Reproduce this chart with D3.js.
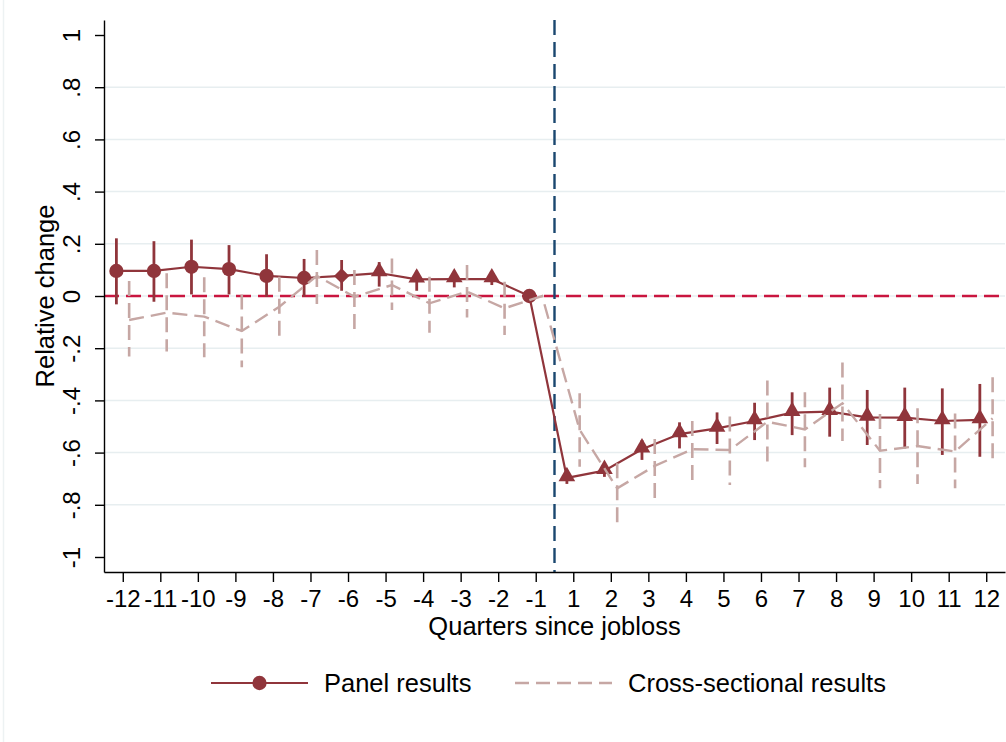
<!DOCTYPE html>
<html>
<head>
<meta charset="UTF-8">
<title>Relative change around job loss</title>
<style>
body { margin: 0; background: #fff; }
svg { font-family: "Liberation Sans", Arial, sans-serif; }
.grid line { stroke: #e7eef0; stroke-width: 1.5px; }
.axis path, .axis line { stroke: #000; stroke-width: 1.4px; }
.axis text { fill: #000; font-size: 24px; }
.title { font-size: 25.5px; fill: #000; }
</style>
</head>
<body>
<script src="https://cdn.jsdelivr.net/npm/d3@7/dist/d3.min.js"></script>
<script>

// quarters since job loss (0 is not a category)
var quarters = [-12, -11, -10, -9, -8, -7, -6, -5, -4, -3, -2, -1,
                1, 2, 3, 4, 5, 6, 7, 8, 9, 10, 11, 12];

// panel estimates and 95% bands
var panelEst = [0.096, 0.096, 0.112, 0.103, 0.077, 0.069, 0.077, 0.088, 0.064, 0.065, 0.065, 0,
                -0.697, -0.669, -0.587, -0.529, -0.507, -0.479, -0.447, -0.443, -0.465, -0.466, -0.479, -0.475];
var panelLo  = [-0.032, -0.022, 0.006, 0.006, -0.003, -0.003, 0.02, 0.036, 0.02, 0.033, 0.042, null,
                -0.72, -0.693, -0.628, -0.584, -0.567, -0.552, -0.533, -0.539, -0.571, -0.584, -0.609, -0.616];
var panelHi  = [0.221, 0.21, 0.216, 0.195, 0.16, 0.142, 0.138, 0.13, 0.097, 0.097, 0.09, null,
                -0.68, -0.64, -0.552, -0.484, -0.446, -0.409, -0.369, -0.351, -0.36, -0.351, -0.354, -0.337];
var panelShape = ["circle", "circle", "circle", "circle", "circle", "circle", "diamond",
                  "triangle", "triangle", "triangle", "triangle", "circle",
                  "triangle", "triangle", "triangle", "triangle", "triangle", "triangle",
                  "triangle", "triangle", "triangle", "triangle", "triangle", "triangle"];

// cross-sectional estimates and 95% bands
var crossEst = [-0.092, -0.064, -0.079, -0.134, -0.041, 0.077, -0.003, 0.042, -0.028, 0.017, -0.047, 0,
                -0.513, -0.737, -0.651, -0.587, -0.59, -0.482, -0.511, -0.411, -0.593, -0.575, -0.596, -0.469];
var crossLo  = [-0.232, -0.213, -0.235, -0.273, -0.156, -0.031, -0.128, -0.054, -0.141, -0.082, -0.149, null,
                -0.654, -0.869, -0.775, -0.708, -0.724, -0.635, -0.656, -0.556, -0.737, -0.72, -0.737, -0.622];
var crossHi  = [0.057, 0.087, 0.072, 0.006, 0.074, 0.176, 0.1, 0.144, 0.074, 0.119, 0.055, null,
                -0.373, -0.641, -0.548, -0.479, -0.462, -0.324, -0.369, -0.255, -0.452, -0.43, -0.45, -0.311];

var yTicks = [-1, -0.8, -0.6, -0.4, -0.2, 0, 0.2, 0.4, 0.6, 0.8, 1];
var yGrid  = [-0.8, -0.6, -0.4, -0.2, 0, 0.2, 0.4, 0.6, 0.8];

var panelColor = "#90353b",
    crossColor = "#c6a7a4";

var W = 1006, H = 742;
var svg = d3.select("body").append("svg")
    .attr("width", W)
    .attr("height", H);

// faint outer frame edge on the left
svg.append("line")
    .attr("x1", 3.5).attr("x2", 3.5).attr("y1", 0).attr("y2", H)
    .attr("stroke", "#edf2f3").attr("stroke-width", 1.5);

// scales: x runs on category index, half a slot padding each side
var x = d3.scaleLinear().domain([-0.5, quarters.length - 0.5]).range([104, 1005]);
var y = d3.scaleLinear().domain([-1.0575, 1.0575]).range([572, 20]);
var off = 0.17;

// gridlines
svg.append("g").attr("class", "grid")
  .selectAll("line").data(yGrid).enter().append("line")
    .attr("x1", x(-0.5)).attr("x2", x(quarters.length - 0.5))
    .attr("y1", function(d) { return y(d); })
    .attr("y2", function(d) { return y(d); });

// reference lines
svg.append("line")
    .attr("x1", x(-0.5)).attr("x2", x(quarters.length - 0.5))
    .attr("y1", y(0)).attr("y2", y(0))
    .attr("stroke", "#c9153f").attr("stroke-width", 2.4)
    .attr("stroke-dasharray", "15,7");

svg.append("line")
    .attr("x1", x(11.5)).attr("x2", x(11.5))
    .attr("y1", y(1.0575)).attr("y2", y(-1.0575))
    .attr("stroke", "#1a476f").attr("stroke-width", 2.4)
    .attr("stroke-dasharray", "15,7");

// axes
function yFmt(v) {
  if (v === 0) return "0";
  if (Math.abs(v) === 1) return String(v);
  return String(v).replace("0.", ".");
}

var yAxis = svg.append("g").attr("class", "axis")
    .attr("transform", "translate(104,0)")
    .call(d3.axisLeft(y).tickValues(yTicks).tickFormat(yFmt).tickSize(9).tickSizeOuter(0));
yAxis.selectAll("text")
    .attr("x", null).attr("dy", null)
    .attr("text-anchor", "middle")
    .attr("transform", "translate(-24,0) rotate(-90)");

var xAxis = svg.append("g").attr("class", "axis")
    .attr("transform", "translate(0,572)")
    .call(d3.axisBottom(x).tickValues(d3.range(quarters.length))
      .tickFormat(function(i) { return quarters[i]; }).tickSize(10).tickSizeOuter(0));
xAxis.selectAll("text").attr("y", 35).attr("dy", null);

// axis titles
svg.append("text").attr("class", "title")
    .attr("text-anchor", "middle")
    .attr("transform", "translate(54," + y(0) + ") rotate(-90)")
    .text("Relative change");

svg.append("text").attr("class", "title")
    .attr("text-anchor", "middle")
    .attr("x", (x(-0.5) + x(quarters.length - 0.5)) / 2)
    .attr("y", 635)
    .text("Quarters since jobloss");

// ---- panel series ----
var idx = d3.range(quarters.length);
var gp = svg.append("g");

gp.selectAll("line.ci").data(idx.filter(function(i) { return panelLo[i] !== null; }))
  .enter().append("line")
    .attr("class", "ci")
    .attr("x1", function(i) { return x(i - off); })
    .attr("x2", function(i) { return x(i - off); })
    .attr("y1", function(i) { return y(panelLo[i]); })
    .attr("y2", function(i) { return y(panelHi[i]); })
    .attr("stroke", panelColor).attr("stroke-width", 2.8);

gp.append("path")
    .datum(idx)
    .attr("fill", "none")
    .attr("stroke", panelColor).attr("stroke-width", 2.2)
    .attr("d", d3.line()
      .x(function(i) { return x(i - off); })
      .y(function(i) { return y(panelEst[i]); }));

var symbolType = { circle: d3.symbolCircle, diamond: d3.symbolDiamond2, triangle: d3.symbolTriangle };
var symbolSize = { circle: 160, diamond: 150, triangle: 120 };

gp.selectAll("path.mk").data(idx).enter().append("path")
    .attr("class", "mk")
    .attr("transform", function(i) {
      var dy = panelShape[i] === "triangle" ? -1.5 : 0;
      return "translate(" + x(i - off) + "," + (y(panelEst[i]) + dy) + ")";
    })
    .attr("d", function(i) {
      return d3.symbol().type(symbolType[panelShape[i]]).size(symbolSize[panelShape[i]])();
    })
    .attr("fill", panelColor);

// ---- cross-sectional series ----
var gc = svg.append("g");

gc.selectAll("line.ci").data(idx.filter(function(i) { return crossLo[i] !== null; }))
  .enter().append("line")
    .attr("class", "ci")
    .attr("x1", function(i) { return x(i + off); })
    .attr("x2", function(i) { return x(i + off); })
    .attr("y1", function(i) { return y(crossHi[i]); })
    .attr("y2", function(i) { return y(crossLo[i]); })
    .attr("stroke", crossColor).attr("stroke-width", 2.6)
    .attr("stroke-dasharray", "15,7");

gc.append("path")
    .datum(idx)
    .attr("fill", "none")
    .attr("stroke", crossColor).attr("stroke-width", 2.4)
    .attr("stroke-dasharray", "15,7")
    .attr("d", d3.line()
      .x(function(i) { return x(i + off); })
      .y(function(i) { return y(crossEst[i]); }));

// ---- legend ----
var lg = svg.append("g").attr("transform", "translate(0,683)");

lg.append("line")
    .attr("x1", 211).attr("x2", 308).attr("y1", 0).attr("y2", 0)
    .attr("stroke", panelColor).attr("stroke-width", 2.2);
lg.append("path")
    .attr("transform", "translate(259.5,0)")
    .attr("d", d3.symbol().type(d3.symbolCircle).size(160)())
    .attr("fill", panelColor);
lg.append("text").attr("class", "title")
    .attr("x", 324).attr("y", 9)
    .text("Panel results");

lg.append("line")
    .attr("x1", 515).attr("x2", 612).attr("y1", 0).attr("y2", 0)
    .attr("stroke", crossColor).attr("stroke-width", 2.4)
    .attr("stroke-dasharray", "14,7");
lg.append("text").attr("class", "title")
    .attr("x", 628).attr("y", 9)
    .text("Cross-sectional results");

</script>
</body>
</html>
